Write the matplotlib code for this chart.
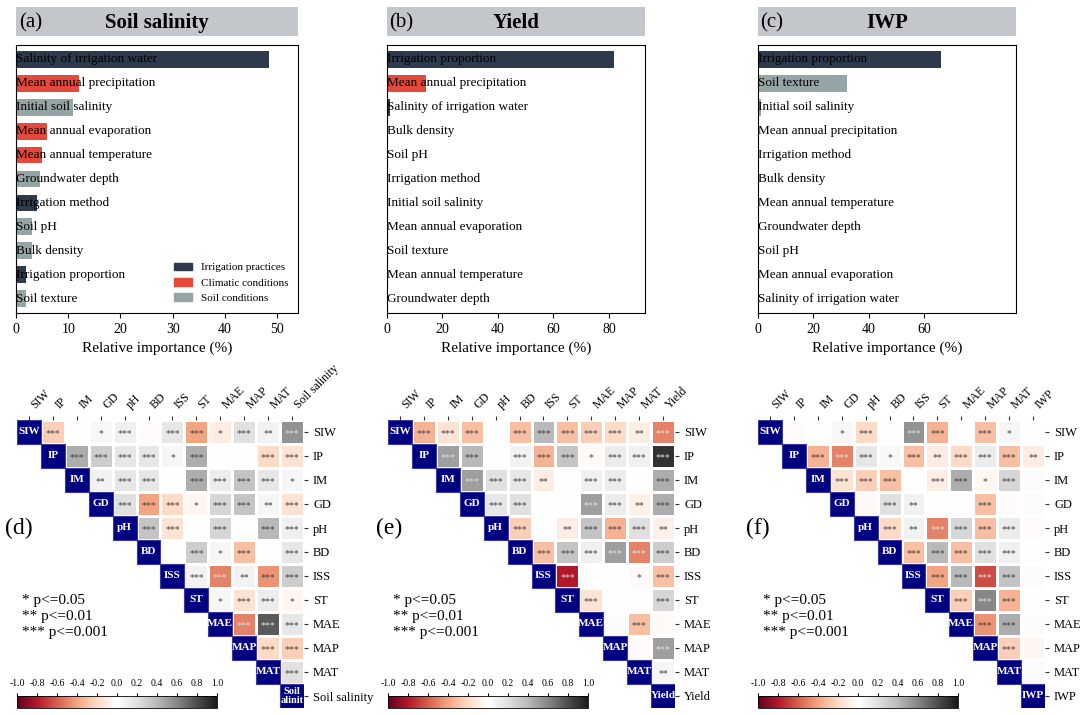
import matplotlib
matplotlib.use('Agg')
import matplotlib.pyplot as plt
import numpy as np
from matplotlib.patches import Rectangle

plt.rcParams['font.family'] = ['Liberation Serif', 'DejaVu Serif']
plt.rcParams['axes.unicode_minus'] = False

# ---- importance data ----
a_names = ['Salinity of irrigation water', 'Mean annual precipitation', 'Initial soil salinity',
           'Mean annual evaporation', 'Mean annual temperature', 'Groundwater depth',
           'Irrigation method', 'Soil pH', 'Bulk density', 'Irrigation proportion', 'Soil texture']
a_vals = [48.5, 12, 11, 6, 5, 4.5, 4, 3, 3, 2, 2]
b_names = ['Irrigation proportion', 'Mean annual precipitation', 'Salinity of irrigation water',
           'Bulk density', 'Soil pH', 'Irrigation method', 'Initial soil salinity',
           'Mean annual evaporation', 'Soil texture', 'Mean annual temperature', 'Groundwater depth']
b_vals = [82, 14, 1, 0.3, 0.3, 0.3, 0.3, 0.3, 0.2, 0.2, 0.2]
c_names = ['Irrigation proportion', 'Soil texture', 'Initial soil salinity', 'Mean annual precipitation',
           'Irrigation method', 'Bulk density', 'Mean annual temperature', 'Groundwater depth',
           'Soil pH', 'Mean annual evaporation', 'Salinity of irrigation water']
c_vals = [66, 32, 1, 0.5, 0.3, 0.3, 0.2, 0.2, 0.2, 0.2, 0.2]

groups = {'Irrigation practices': ['Salinity of irrigation water', 'Irrigation method', 'Irrigation proportion'],
          'Climatic conditions': ['Mean annual precipitation', 'Mean annual evaporation', 'Mean annual temperature'],
          'Soil conditions': ['Initial soil salinity', 'Groundwater depth', 'Soil pH', 'Bulk density', 'Soil texture']}
gcol = {'Irrigation practices': '#2c3a4b', 'Climatic conditions': '#e4493b', 'Soil conditions': '#95a5a6'}

def colour(n):
    for g, lst in groups.items():
        if n in lst:
            return gcol[g]

# ---- correlation data (upper triangle, row by row) ----
abbr = ['SIW', 'IP', 'IM', 'GD', 'pH', 'BD', 'ISS', 'ST', 'MAE', 'MAP', 'MAT']
d_r = [[-0.25, 0.0, 0.05, 0.1, -0.02, 0.15, -0.4, -0.1, 0.2, 0.08, 0.55],
       [0.45, 0.3, 0.15, 0.15, 0.06, 0.45, 0.0, 0.0, -0.2, -0.15],
       [0.08, 0.15, 0.15, 0.0, 0.45, 0.12, 0.35, 0.15, 0.05],
       [0.2, -0.4, -0.2, -0.05, 0.25, 0.35, 0.06, -0.15],
       [0.35, -0.15, 0.0, 0.25, 0.0, 0.4, 0.1],
       [0.0, 0.3, 0.06, -0.3, 0.0, 0.15],
       [0.08, -0.5, 0.08, -0.45, 0.3],
       [0.05, -0.15, 0.12, -0.05],
       [-0.5, 0.75, 0.15],
       [-0.2, -0.25],
       [0.2]]
d_s = [['***', '', '*', '***', '', '***', '***', '*', '***', '**', '***'],
       ['***', '***', '***', '***', '*', '***', '', '', '***', '***'],
       ['**', '***', '***', '', '***', '***', '***', '***', '*'],
       ['***', '***', '***', '*', '***', '***', '**', '***'],
       ['***', '***', '', '***', '', '***', '***'],
       ['', '***', '*', '***', '', '***'],
       ['***', '***', '**', '***', '***'],
       ['*', '***', '***', '*'],
       ['***', '***', '***'],
       ['***', '***'],
       ['***']]
e_r = [[-0.35, -0.15, -0.3, 0.0, -0.3, 0.4, -0.3, -0.25, -0.2, -0.1, -0.5],
       [0.5, 0.4, 0.0, 0.08, -0.35, 0.35, -0.03, 0.12, 0.1, 0.9],
       [0.5, 0.2, 0.15, -0.1, 0.0, 0.1, 0.12, 0.0, 0.45],
       [0.15, 0.2, 0.0, 0.0, 0.5, 0.12, -0.08, 0.45],
       [-0.25, 0.0, -0.1, 0.35, -0.35, 0.2, -0.08],
       [-0.3, 0.35, 0.1, 0.5, -0.5, 0.3],
       [-0.8, 0.0, 0.0, -0.03, -0.3],
       [-0.15, 0.0, 0.0, 0.25],
       [0.02, -0.3, -0.03],
       [-0.02, 0.5],
       [0.06]]
e_s = [['***', '***', '***', '', '***', '***', '***', '***', '***', '**', '***'],
       ['***', '***', '', '***', '***', '***', '*', '***', '***', '***'],
       ['***', '***', '***', '**', '', '***', '***', '', '***'],
       ['***', '***', '', '', '***', '***', '**', '***'],
       ['***', '', '**', '***', '***', '***', '**'],
       ['***', '***', '***', '***', '***', '***'],
       ['***', '', '', '*', '***'],
       ['***', '', '', '***'],
       ['', '***', ''],
       ['', '***'],
       ['**']]
f_r = [[-0.02, 0.0, 0.05, -0.2, 0.0, 0.55, -0.35, 0.0, -0.3, 0.06, 0.0],
       [-0.35, -0.5, 0.15, 0.04, -0.3, -0.1, -0.2, 0.12, -0.3, -0.1],
       [-0.15, -0.25, -0.3, 0.0, -0.1, 0.45, -0.05, 0.25, 0.03],
       [-0.03, 0.2, 0.08, 0.0, 0.0, -0.3, -0.02, 0.03],
       [-0.2, 0.08, -0.5, 0.25, -0.3, 0.12, -0.02],
       [-0.3, 0.4, -0.3, 0.2, 0.1, 0.0],
       [-0.4, 0.4, -0.65, 0.35, 0.03],
       [-0.25, 0.6, -0.35, 0.0],
       [-0.45, 0.45, 0.02],
       [-0.25, -0.05],
       [0.03]]
f_s = [['', '', '*', '***', '', '***', '***', '', '***', '*', ''],
       ['***', '***', '***', '*', '***', '**', '***', '***', '***', '**'],
       ['***', '***', '***', '', '***', '***', '*', '***', ''],
       ['', '***', '**', '', '', '***', '', ''],
       ['***', '**', '***', '***', '***', '***', ''],
       ['***', '***', '***', '***', '***', ''],
       ['***', '***', '***', '***', ''],
       ['***', '***', '***', ''],
       ['***', '***', ''],
       ['***', ''],
       ['']]

fig = plt.figure(figsize=(10.8, 7.15), dpi=100)

bar_panels = [('(a)', 'Soil salinity', a_names, a_vals, 54, [0, 10, 20, 30, 40, 50], 16 / 1080, 282 / 1080),
              ('(b)', 'Yield', b_names, b_vals, 93, [0, 20, 40, 60, 80], 387 / 1080, 258 / 1080),
              ('(c)', 'IWP', c_names, c_vals, 93, [0, 20, 40, 60], 758 / 1080, 258 / 1080)]
for tag, title, names, vals, xmax, ticks, left, w in bar_panels:
    ax = fig.add_axes([left, 1 - 313 / 715, w, 268 / 715])
    y = np.arange(len(names))
    ax.barh(y, vals, height=0.7, color=[colour(n) for n in names])
    for yi, n in zip(y, names):
        ax.text(0.0, yi, n, va='center', ha='left', fontsize=9.5)
    ax.set_ylim(len(names) - 0.4, -0.6)
    ax.set_xlim(0, xmax)
    ax.set_xticks(ticks)
    ax.set_yticks([])
    ax.tick_params(labelsize=10)
    ax.set_xlabel('Relative importance (%)', fontsize=11)
    tb = fig.add_axes([left, 1 - 36 / 715, w, 29 / 715])
    tb.set_facecolor('#c3c6ca')
    tb.set_xticks([]); tb.set_yticks([])
    for s in tb.spines.values():
        s.set_visible(False)
    tb.text(0.01, 0.45, tag, fontsize=15, va='center')
    tb.text(0.5, 0.45, title, fontsize=15, va='center', ha='center', fontweight='bold')
    if tag == '(a)':
        hs = [Rectangle((0, 0), 1, 1, color=gcol[g]) for g in groups]
        ax.legend(hs, list(groups), loc='lower right', frameon=False, fontsize=8,
                  handlelength=1.6, bbox_to_anchor=(1.0, 0.0))

heat_panels = [('(d)', 'Soil salinity', 'Soil\nalinit', d_r, d_s, 17 / 1080),
               ('(e)', 'Yield', 'Yield', e_r, e_s, 388 / 1080),
               ('(f)', 'IWP', 'IWP', f_r, f_s, 758 / 1080)]
for tag, target, dlab, rr, ss, left in heat_panels:
    labs = abbr + [target]
    n = len(labs)
    M = np.full((n, n), np.nan)
    for i, row in enumerate(rr):
        for k, v in enumerate(row):
            M[i, i + 1 + k] = v
    ax = fig.add_axes([left, 1 - 708 / 715, 287 / 1080, 288 / 715])
    ax.pcolormesh(np.arange(n + 1), np.arange(n + 1), M, cmap='RdGy', vmin=-1, vmax=1,
                  edgecolor='white', linewidth=1)
    for i, row in enumerate(ss):
        for k, s in enumerate(row):
            j = i + 1 + k
            if s:
                c = '#dddddd' if abs(M[i, j]) > 0.48 else '#444444'
                ax.text(j + 0.5, i + 0.55, s, ha='center', va='center', fontsize=7, color=c)
    for i in range(n):
        ax.add_patch(Rectangle((i, i), 1, 1, facecolor='#000080', edgecolor='#3a3aa0', lw=0.8))
        lab = dlab if i == n - 1 else labs[i]
        ax.text(i + 0.5, i + 0.5, lab, ha='center', va='center', color='white',
                fontsize=8 if '\n' not in lab else 7.5, fontweight='bold', linespacing=0.9)
    ax.set_xlim(0, n)
    ax.set_ylim(n, 0)
    ax.set_xticks(np.arange(n) + 0.5)
    ax.set_xticklabels(labs, rotation=45, ha='left', fontsize=8.5)
    ax.set_yticks(np.arange(n) + 0.5)
    ax.set_yticklabels(labs, fontsize=9)
    ax.xaxis.tick_top()
    ax.yaxis.tick_right()
    ax.tick_params(length=3, width=0.8, color='#333333')
    for s in ax.spines.values():
        s.set_visible(False)
    ax.text(-0.5, 4.5, tag, fontsize=17, va='center')
    ax.text(0.2, 8.2, '* p<=0.05\n** p<=0.01\n*** p<=0.001', fontsize=11, va='center', linespacing=1.3)
    cax = fig.add_axes([left, 1 - 708 / 715, 200 / 1080, 12 / 715])
    sm = plt.cm.ScalarMappable(cmap='RdGy', norm=plt.Normalize(-1, 1))
    cb = fig.colorbar(sm, cax=cax, orientation='horizontal', ticks=np.round(np.arange(-1, 1.01, 0.2), 1))
    cax.xaxis.set_ticks_position('top')
    cax.tick_params(labelsize=7, length=2)
    cb.outline.set_linewidth(0.6)

fig.savefig('out.png', dpi=100)
